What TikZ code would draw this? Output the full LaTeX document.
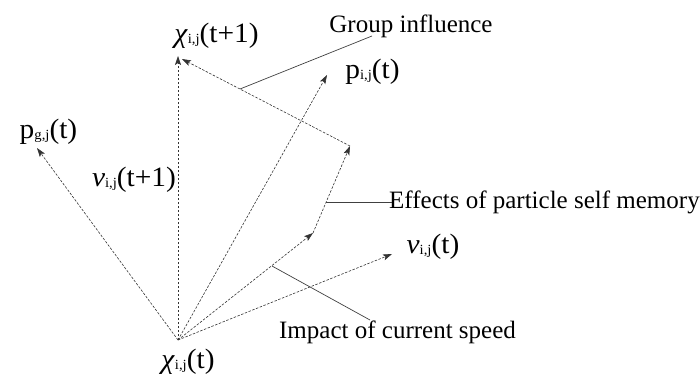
\documentclass[tikz,border=0pt]{standalone}
\usepackage{fontspec}
\setmainfont{Liberation Serif}
\usetikzlibrary{arrows.meta}
\newcommand{\sbx}[1]{\raisebox{-1pt}{\fontsize{14}{15}\selectfont #1}}
\newcommand{\lab}[1]{\scalebox{1.05}[1]{#1}}
\begin{document}
\begin{tikzpicture}[x=1pt,y=-1pt,
  vec/.style={dash pattern=on 2.5pt off 1.5pt, line width=0.6pt, draw=black!80, -{Stealth[length=9pt,width=6pt,inset=2pt]}},
  leader/.style={line width=0.7pt, draw=black!75},
  lbl/.style={inner sep=0pt, anchor=base, font=\fontsize{28}{32}\selectfont},
  txt/.style={inner sep=0pt, font=\fontsize{25}{30}\selectfont}]
\useasboundingbox (0,0) rectangle (700,378);
\coordinate (O) at (178,340);
\coordinate (Pg) at (37,148);
\coordinate (X1) at (178,56);
\coordinate (X1b) at (182,59);
\coordinate (Pi) at (327,75);
\coordinate (M1) at (313,233);
\coordinate (M2) at (350,146);
\coordinate (V) at (392,254);
% vectors
\draw[vec] (O) -- (Pg);
\draw[vec] (O) -- (X1);
\draw[vec] (O) -- (Pi);
\draw[vec] (O) -- (M1);
\draw[vec] (O) -- (V);
\draw[vec] (M1) -- (M2);
\draw[vec] (M2) -- (X1b);
% labels
\node[lbl] (lx1) at (216.5,42) {\lab{\textit{χ}\sbx{i,j}(t+1)}};
\node[lbl] (lpi) at (372.5,78) {\lab{p\sbx{i,j}(t)}};
\node[lbl] (lpg) at (48.5,138) {\lab{p\sbx{g,j}(t)}};
\node[lbl] (lv1) at (134,186) {\lab{\textit{ν}\sbx{i,j}(t+1)}};
\node[lbl] (lv) at (433,253) {\lab{\textit{ν}\sbx{i,j}(t)}};
\node[lbl] (lx) at (188,368) {\lab{\textit{χ}\sbx{i,j}(t)}};
% annotations
\node[txt, anchor=base] (tg) at (411,32) {Group influence};
\node[txt, anchor=base west] (te) at (389,208) {Effects of particle self memory};
\node[txt, anchor=base] (ti) at (397.5,338) {Impact of current speed};
\coordinate (g0) at (240,89);
\coordinate (g1) at (372,36);
\coordinate (e0) at (326,202);
\coordinate (e1) at (392,202);
\coordinate (i0) at (272,266);
\coordinate (i1) at (370,320);
\draw[leader] (g0) -- (g1);
\draw[leader] (e0) -- (e1);
\draw[leader] (i0) -- (i1);
\end{tikzpicture}
\end{document}
